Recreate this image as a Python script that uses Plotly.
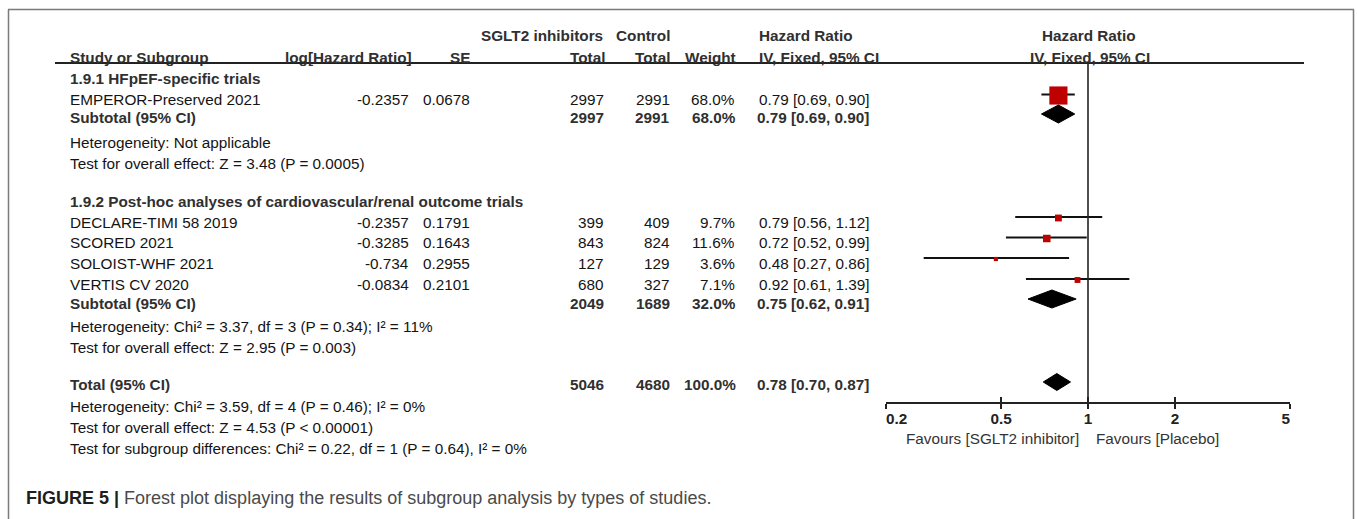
import math
import plotly.graph_objects as go

# ---------------- data ----------------
studies = ["EMPEROR-Preserved 2021", "DECLARE-TIMI 58 2019", "SCORED 2021",
           "SOLOIST-WHF 2021", "VERTIS CV 2020"]
log_hr = ["-0.2357", "-0.2357", "-0.3285", "-0.734", "-0.0834"]
se = ["0.0678", "0.1791", "0.1643", "0.2955", "0.2101"]
sglt2_total = [2997, 399, 843, 127, 680]
control_total = [2991, 409, 824, 129, 327]
weight = [68.0, 9.7, 11.6, 3.6, 7.1]
hr = [0.79, 0.79, 0.72, 0.48, 0.92]
ci_lo = [0.69, 0.56, 0.52, 0.27, 0.61]
ci_hi = [0.90, 1.12, 0.99, 0.86, 1.39]

pooled_names = ["Subtotal (95% CI)", "Subtotal (95% CI)", "Total (95% CI)"]
pooled_sglt2 = [2997, 2049, 5046]
pooled_control = [2991, 1689, 4680]
pooled_weight = [68.0, 32.0, 100.0]
pooled_hr = [0.79, 0.75, 0.78]
pooled_lo = [0.69, 0.62, 0.70]
pooled_hi = [0.90, 0.91, 0.87]

groups = ["1.9.1 HFpEF-specific trials",
          "1.9.2 Post-hoc analyses of cardiovascular/renal outcome trials"]
stats_text = [
    "Heterogeneity: Not applicable",
    "Test for overall effect: Z = 3.48 (P = 0.0005)",
    "Heterogeneity: Chi² = 3.37, df = 3 (P = 0.34); I² = 11%",
    "Test for overall effect: Z = 2.95 (P = 0.003)",
    "Heterogeneity: Chi² = 3.59, df = 4 (P = 0.46); I² = 0%",
    "Test for overall effect: Z = 4.53 (P < 0.00001)",
    "Test for subgroup differences: Chi² = 0.22, df = 1 (P = 0.64), I² = 0%",
]
tick_vals = [0.2, 0.5, 1, 2, 5]
tick_labels = ["0.2", "0.5", "1", "2", "5"]
favours = ["Favours [SGLT2 inhibitor]", "Favours [Placebo]"]
caption_bold = "FIGURE 5 |"
caption_text = "Forest plot displaying the results of subgroup analysis by types of studies."

# ---------------- layout constants (pixels) ----------------
W, H = 1357, 519
FONT = "Liberation Sans, Arial, sans-serif"
FS = 15.3
DARK = "#141414"
BOLDC = "#303030"

study_text_y = [100, 222, 242.5, 263, 284]
study_mark_y = [94.5, 217, 237.5, 258, 279]
pooled_text_y = [118, 303, 384]
pooled_mark_y = [114, 299, 382]
pooled_half_h = [9, 9, 8.5]
group_y = [78, 201]
stats_y = [142, 163, 326, 347, 406, 427, 448]
AXIS_Y = 402
HEADER_LINE_Y = 63

fig = go.Figure()

# CI whiskers
wx, wy = [], []
for lo, hi, y in zip(ci_lo, ci_hi, study_mark_y):
    wx += [lo, hi, None]
    wy += [y, y, None]
fig.add_trace(go.Scatter(x=wx, y=wy, mode="lines",
                         line=dict(color="#111111", width=1.8),
                         hoverinfo="skip", showlegend=False))

# weighted squares
fig.add_trace(go.Scatter(
    x=hr, y=[y + 1 for y in study_mark_y], mode="markers",
    marker=dict(symbol="square", color="#BE0000", opacity=1,
                size=[2.2 * math.sqrt(w) for w in weight],
                line=dict(width=0)),
    hoverinfo="skip", showlegend=False))

# pooled diamonds
for est, lo, hi, y, hh in zip(pooled_hr, pooled_lo, pooled_hi, pooled_mark_y, pooled_half_h):
    fig.add_trace(go.Scatter(
        x=[lo, est, hi, est, lo], y=[y, y - hh, y, y + hh, y],
        mode="lines", fill="toself", fillcolor="#000000",
        line=dict(color="#000000", width=1),
        hoverinfo="skip", showlegend=False))

# dummy trace for upper tick marks axis
fig.add_trace(go.Scatter(x=[1], y=[AXIS_Y], xaxis="x2", yaxis="y",
                         mode="markers", marker=dict(opacity=0),
                         hoverinfo="skip", showlegend=False))

NB = "\u00a0"
tick_text = ["<b>%s</b>" % t for t in tick_labels]
tick_text[0] = NB * 5 + tick_text[0]
tick_text[-1] = tick_text[-1] + NB * 2

xr = [math.log10(tick_vals[0]), math.log10(tick_vals[-1])]
xdom = [886 / W, 1290 / W]
fig.update_layout(
    width=W, height=H, autosize=False,
    margin=dict(l=0, r=0, t=0, b=0, pad=0, autoexpand=False),
    paper_bgcolor="white", plot_bgcolor="rgba(0,0,0,0)",
    font=dict(family=FONT, size=FS, color=DARK),
    xaxis=dict(type="log", range=xr, domain=xdom, anchor="y", automargin=False,
               tickvals=tick_vals, ticktext=tick_text, ticklabelstandoff=-3,
               ticks="outside", ticklen=5, tickwidth=1.5, tickcolor="#222",
               showline=True, linecolor="#222", linewidth=1.5,
               showgrid=False, zeroline=False,
               tickfont=dict(family=FONT, size=FS, color="#222")),
    xaxis2=dict(type="log", range=xr, domain=xdom, anchor="y", overlaying="x",
                automargin=False,
                side="bottom", tickvals=tick_vals, ticks="inside", ticklen=5,
                tickwidth=1.5, tickcolor="#222", showticklabels=False,
                showline=False, showgrid=False, zeroline=False),
    yaxis=dict(range=[AXIS_Y, 0], domain=[1 - AXIS_Y / H, 1], automargin=False,
               showline=False, showticklabels=False, showgrid=False,
               zeroline=False, ticks=""),
    showlegend=False,
)

ann = []


def txt(x, y, text, anchor="left", bold=False, color=None, size=FS, xref="paper", xshift=0):
    ann.append(dict(
        x=(x / W) if xref == "paper" else x, y=1 - y / H,
        xref=xref, yref="paper", xanchor=anchor, yanchor="middle",
        text=("<b>%s</b>" % text) if bold else text, showarrow=False,
        xshift=xshift,
        font=dict(family=FONT, size=size, color=color or (BOLDC if bold else DARK))))


# headers
txt(479, 36, "SGLT2 inhibitors", bold=True)
txt(614, 36, "Control", bold=True)
txt(757, 36, "Hazard Ratio", bold=True)
txt(1089, 36, "Hazard Ratio", "center", bold=True)
txt(68, 57, "Study or Subgroup", bold=True)
txt(414, 57, "log[Hazard Ratio]", "right", bold=True)
txt(472, 57, "SE", "right", bold=True)
txt(607, 57, "Total", "right", bold=True)
txt(672, 57, "Total", "right", bold=True)
txt(738, 57, "Weight", "right", bold=True)
txt(757, 57, "IV, Fixed, 95% CI", bold=True)
txt(1090, 57, "IV, Fixed, 95% CI", "center", bold=True)

# groups
for g, y in zip(groups, group_y):
    txt(68, y, g, bold=True)

# studies
for i, name in enumerate(studies):
    y = study_text_y[i]
    txt(68, y, name)
    txt(411, y, log_hr[i], "right")
    txt(472, y, se[i], "right")
    txt(606, y, str(sglt2_total[i]), "right")
    txt(672, y, str(control_total[i]), "right")
    txt(737, y, "%.1f%%" % weight[i], "right")
    txt(872, y, "%.2f [%.2f, %.2f]" % (hr[i], ci_lo[i], ci_hi[i]), "right")

# pooled
for i, name in enumerate(pooled_names):
    y = pooled_text_y[i]
    txt(68, y, name, bold=True)
    txt(606, y, str(pooled_sglt2[i]), "right", bold=True)
    txt(672, y, str(pooled_control[i]), "right", bold=True)
    txt(738, y, "%.1f%%" % pooled_weight[i], "right", bold=True)
    txt(871, y, "%.2f [%.2f, %.2f]" % (pooled_hr[i], pooled_lo[i], pooled_hi[i]), "right", bold=True)

# stats
for s, y in zip(stats_text, stats_y):
    txt(68, y, s)

# favours labels (annotation x on a log axis is given as log10 of the value)
ref_x = math.log10(tick_vals[2])
txt(ref_x, 438, favours[0], "right", xref="x", xshift=-7, color="#333")
txt(ref_x, 438, favours[1], "left", xref="x", xshift=6, color="#333")

# caption
txt(24, 498, "<b>%s</b> <span style='color:#4a4a4a'>%s</span>" % (caption_bold, caption_text),
    color="#1e1e1e", size=18)

fig.update_layout(annotations=ann)

# shapes: frame, header line, reference line
shapes = [
    dict(type="line", xref="paper", yref="paper", x0=8.5 / W, x1=8.5 / W, y0=0, y1=1 - 9.5 / H,
         line=dict(color="#7a7a7a", width=1.5)),
    dict(type="line", xref="paper", yref="paper", x0=1353.5 / W, x1=1353.5 / W, y0=0, y1=1 - 9.5 / H,
         line=dict(color="#7a7a7a", width=1.5)),
    dict(type="line", xref="paper", yref="paper", x0=8 / W, x1=1354 / W, y0=1 - 9.5 / H, y1=1 - 9.5 / H,
         line=dict(color="#7a7a7a", width=1.5)),
    dict(type="line", xref="paper", yref="paper", x0=55 / W, x1=1304 / W,
         y0=1 - HEADER_LINE_Y / H, y1=1 - HEADER_LINE_Y / H,
         line=dict(color="#222", width=2)),
    dict(type="line", xref="x", yref="paper", x0=1, x1=1,
         y0=1 - AXIS_Y / H, y1=1 - HEADER_LINE_Y / H,
         line=dict(color="#222", width=1.6)),
]
fig.update_layout(shapes=shapes)

fig.write_html("out.html",
               config={"displayModeBar": False},
               post_script="document.body.style.margin='0px';"
                           "document.body.style.overflow='hidden';")
